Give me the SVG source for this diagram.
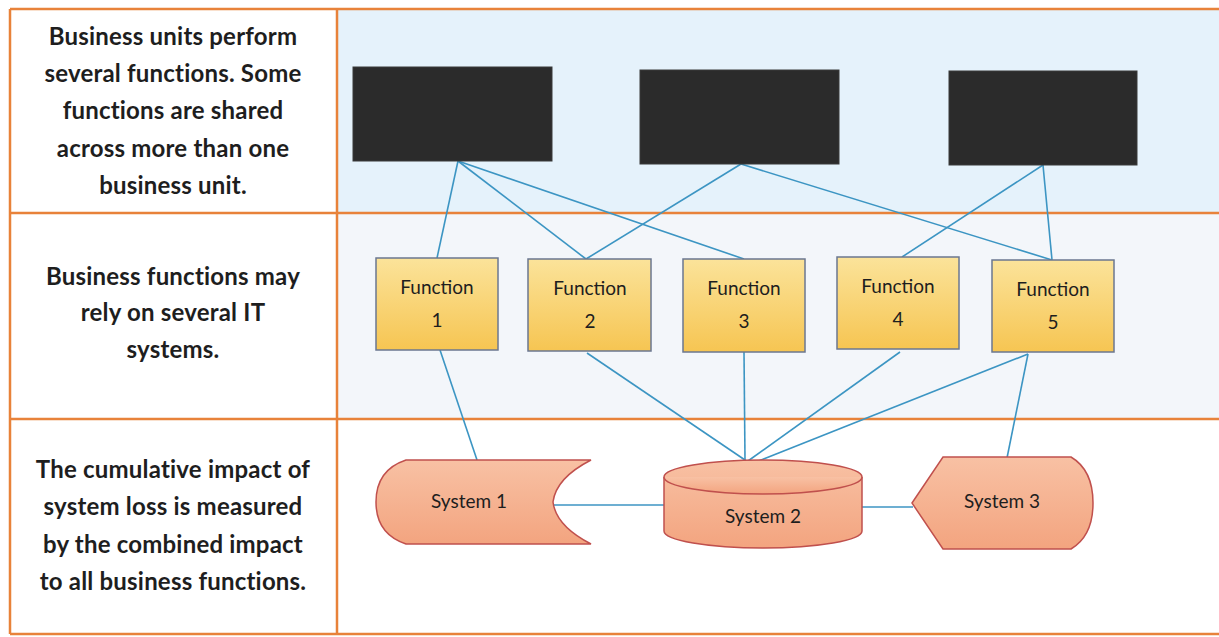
<svg xmlns="http://www.w3.org/2000/svg" width="1219" height="637" viewBox="0 0 1219 637">
  <defs>
    <linearGradient id="gFunc" x1="0" y1="0" x2="0" y2="1">
      <stop offset="0" stop-color="#fbe39a"/>
      <stop offset="1" stop-color="#f6c552"/>
    </linearGradient>
    <linearGradient id="gSys" x1="0" y1="0" x2="0" y2="1">
      <stop offset="0" stop-color="#f8c1a4"/>
      <stop offset="1" stop-color="#f3a47f"/>
    </linearGradient>
    <style>
      .grid { stroke: #e8823a; stroke-width: 2.5; fill: none; }
      .note { font-family: Lato, "Open Sans", "Liberation Sans", sans-serif; font-weight: bold; font-size: 24px; letter-spacing: 0.2px; fill: #1e1e1e; text-anchor: middle; }
      .unit { fill: #2b2b2b; stroke: #3a3a3a; stroke-width: 1; }
      .func { fill: url(#gFunc); stroke: #6b7790; stroke-width: 1.5; }
      .sys { fill: url(#gSys); stroke: #c0504d; stroke-width: 1.5; }
      .lbl { font-family: Lato, "Open Sans", "Liberation Sans", sans-serif; font-size: 19px; fill: #1e1e1e; text-anchor: middle; }
      .link { stroke: #3c95c3; stroke-width: 1.6; fill: none; }
    </style>
  </defs>

  <!-- band backgrounds -->
  <rect x="338" y="10" width="881" height="203" fill="#e5f2fb"/>
  <rect x="338" y="214" width="881" height="205" fill="#f3f6fa"/>
  <rect x="338" y="420" width="881" height="214" fill="#ffffff"/>

  <!-- table grid -->
  <g id="grid">
    <line class="grid" x1="10" y1="9" x2="1219" y2="9"/>
    <line class="grid" x1="10" y1="213" x2="1219" y2="213"/>
    <line class="grid" x1="10" y1="419" x2="1219" y2="419"/>
    <line class="grid" x1="10" y1="634" x2="1219" y2="634"/>
    <line class="grid" x1="10" y1="9" x2="10" y2="634"/>
    <line class="grid" x1="337" y1="9" x2="337" y2="634"/>
  </g>

  <!-- left column notes -->
  <g id="note-units">
    <text class="note" x="173" y="45">Business units perform</text>
    <text class="note" x="173" y="82">several functions. Some</text>
    <text class="note" x="173" y="119">functions are shared</text>
    <text class="note" x="173" y="157">across more than one</text>
    <text class="note" x="173" y="194">business unit.</text>
  </g>
  <g id="note-functions">
    <text class="note" x="173" y="285">Business functions may</text>
    <text class="note" x="173" y="321">rely on several IT</text>
    <text class="note" x="173" y="358">systems.</text>
  </g>
  <g id="note-systems">
    <text class="note" x="173" y="478">The cumulative impact of</text>
    <text class="note" x="173" y="515">system loss is measured</text>
    <text class="note" x="173" y="553">by the combined impact</text>
    <text class="note" x="173" y="590">to all business functions.</text>
  </g>

  <!-- connectors -->
  <g id="connectors">
    <line class="link" x1="458" y1="161" x2="437" y2="258"/>
    <line class="link" x1="458" y1="161" x2="586" y2="259"/>
    <line class="link" x1="458" y1="161" x2="744" y2="259"/>
    <line class="link" x1="741" y1="164" x2="586" y2="259"/>
    <line class="link" x1="741" y1="164" x2="1052" y2="260"/>
    <line class="link" x1="1043" y1="165" x2="902" y2="257"/>
    <line class="link" x1="1043" y1="165" x2="1052" y2="260"/>
    <line class="link" x1="440" y1="350" x2="477" y2="460"/>
    <line class="link" x1="587" y1="353" x2="745" y2="460"/>
    <line class="link" x1="744" y1="352" x2="745" y2="460"/>
    <line class="link" x1="900" y1="352" x2="748" y2="461"/>
    <line class="link" x1="1028" y1="354" x2="756" y2="462"/>
    <line class="link" x1="1028" y1="354" x2="1007" y2="458"/>
    <line class="link" x1="553" y1="505" x2="664" y2="505"/>
    <line class="link" x1="862" y1="507" x2="913" y2="507"/>
  </g>

  <!-- business units -->
  <g id="unit-1"><rect class="unit" x="353" y="67" width="199" height="94"/></g>
  <g id="unit-2"><rect class="unit" x="640" y="70" width="199" height="94"/></g>
  <g id="unit-3"><rect class="unit" x="949" y="71" width="188" height="94"/></g>

  <!-- functions -->
  <g id="function-1">
    <rect class="func" x="376" y="258" width="122" height="92"/>
    <text class="lbl" x="437" y="294">Function</text>
    <text class="lbl" x="437" y="327">1</text>
  </g>
  <g id="function-2">
    <rect class="func" x="528" y="259" width="123" height="92"/>
    <text class="lbl" x="590" y="295">Function</text>
    <text class="lbl" x="590" y="328">2</text>
  </g>
  <g id="function-3">
    <rect class="func" x="683" y="259" width="122" height="93"/>
    <text class="lbl" x="744" y="295">Function</text>
    <text class="lbl" x="744" y="328">3</text>
  </g>
  <g id="function-4">
    <rect class="func" x="837" y="257" width="122" height="92"/>
    <text class="lbl" x="898" y="293">Function</text>
    <text class="lbl" x="898" y="326">4</text>
  </g>
  <g id="function-5">
    <rect class="func" x="992" y="260" width="122" height="92"/>
    <text class="lbl" x="1053" y="296">Function</text>
    <text class="lbl" x="1053" y="329">5</text>
  </g>

  <!-- systems -->
  <g id="system-1">
    <path class="sys" d="M406,460 L591,460 Q556,478 553,502 Q556,526 591,544 L406,544 Q376,534 376,502 Q376,470 406,460 Z"/>
    <text class="lbl" x="469" y="508">System 1</text>
  </g>
  <g id="system-2">
    <path class="sys" d="M664,477 A99,17 0 0 1 862,477 L862,531 A99,17 0 0 1 664,531 Z"/>
    <path class="sys" d="M664,477 A99,17 0 0 0 862,477" fill="none"/>
    <text class="lbl" x="763" y="523">System 2</text>
  </g>
  <g id="system-3">
    <path class="sys" d="M912,503 L943,457 L1071,457 Q1093,470 1093,503 Q1093,536 1071,549 L943,549 Z"/>
    <text class="lbl" x="1002" y="508">System 3</text>
  </g>
</svg>
